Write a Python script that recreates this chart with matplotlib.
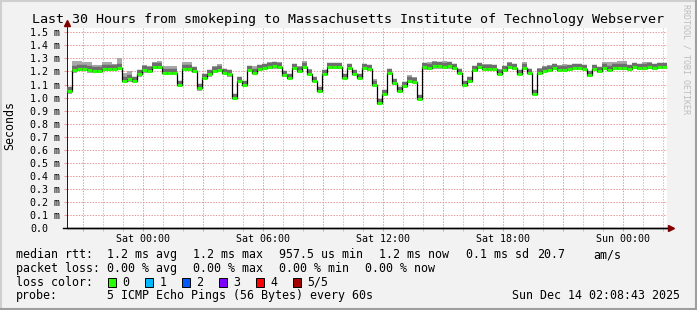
import numpy as np
import matplotlib
matplotlib.use("Agg")
import matplotlib.pyplot as plt
from matplotlib.patches import Rectangle
from matplotlib.lines import Line2D
import matplotlib.transforms as mtransforms

W, H = 697, 310
MONO = "DejaVu Sans Mono"

# time axis: hours relative to Sat 00:00, one value per 15 min step
start_hour = -3.8
step_hours = 0.25

median_ms = [
    1.05, 1.21, 1.22, 1.22, 1.21, 1.20, 1.20, 1.22, 1.22, 1.22,
    1.23, 1.13, 1.14, 1.13, 1.18, 1.21, 1.20, 1.235, 1.235, 1.19,
    1.19, 1.19, 1.10, 1.22, 1.22, 1.20, 1.07, 1.15, 1.18, 1.20,
    1.21, 1.19, 1.18, 1.00, 1.13, 1.10, 1.21, 1.19, 1.22, 1.23,
    1.235, 1.24, 1.235, 1.17, 1.15, 1.23, 1.20, 1.235, 1.18, 1.13,
    1.05, 1.18, 1.235, 1.235, 1.235, 1.15, 1.23, 1.18, 1.15, 1.23,
    1.22, 1.10, 0.96, 1.03, 1.19, 1.11, 1.05, 1.09, 1.13, 1.12,
    0.99, 1.235, 1.23, 1.24, 1.24, 1.235, 1.24, 1.23, 1.19, 1.10,
    1.13, 1.21, 1.235, 1.22, 1.22, 1.22, 1.18, 1.21, 1.235, 1.23,
    1.18, 1.23, 1.19, 1.03, 1.19, 1.20, 1.21, 1.23, 1.21, 1.21,
    1.22, 1.23, 1.23, 1.22, 1.17, 1.22, 1.20, 1.23, 1.21, 1.23,
    1.23, 1.23, 1.22, 1.235, 1.23, 1.23, 1.235, 1.23, 1.235, 1.235,
]
smoke_hi_ms = [
    1.08, 1.28, 1.28, 1.27, 1.27, 1.25, 1.25, 1.27, 1.27, 1.26,
    1.30, 1.19, 1.20, 1.16, 1.20, 1.25, 1.24, 1.27, 1.28, 1.24,
    1.24, 1.24, 1.12, 1.27, 1.27, 1.23, 1.09, 1.17, 1.21, 1.24,
    1.26, 1.22, 1.20, 1.01, 1.15, 1.12, 1.24, 1.24, 1.25, 1.26,
    1.27, 1.27, 1.27, 1.20, 1.18, 1.25, 1.24, 1.28, 1.22, 1.15,
    1.07, 1.20, 1.26, 1.26, 1.26, 1.17, 1.26, 1.21, 1.18, 1.25,
    1.25, 1.14, 0.98, 1.06, 1.22, 1.14, 1.07, 1.12, 1.17, 1.16,
    1.01, 1.26, 1.27, 1.28, 1.27, 1.28, 1.27, 1.26, 1.21, 1.12,
    1.15, 1.24, 1.26, 1.26, 1.26, 1.25, 1.22, 1.24, 1.27, 1.26,
    1.20, 1.27, 1.21, 1.06, 1.23, 1.24, 1.25, 1.25, 1.25, 1.26,
    1.25, 1.26, 1.26, 1.25, 1.19, 1.24, 1.22, 1.27, 1.27, 1.27,
    1.28, 1.28, 1.25, 1.26, 1.26, 1.27, 1.27, 1.26, 1.26, 1.26,
]
smoke_lo_ms = [
    1.03, 1.19, 1.20, 1.20, 1.19, 1.19, 1.19, 1.21, 1.21, 1.21,
    1.22, 1.12, 1.12, 1.12, 1.16, 1.19, 1.19, 1.22, 1.22, 1.18,
    1.17, 1.18, 1.09, 1.21, 1.21, 1.19, 1.05, 1.14, 1.16, 1.19,
    1.20, 1.18, 1.16, 0.99, 1.12, 1.09, 1.20, 1.18, 1.21, 1.21,
    1.22, 1.22, 1.22, 1.16, 1.14, 1.21, 1.19, 1.22, 1.17, 1.12,
    1.04, 1.17, 1.22, 1.22, 1.22, 1.14, 1.22, 1.17, 1.14, 1.22,
    1.20, 1.09, 0.94, 1.02, 1.18, 1.10, 1.04, 1.08, 1.12, 1.11,
    0.98, 1.21, 1.21, 1.22, 1.22, 1.22, 1.22, 1.21, 1.18, 1.09,
    1.12, 1.20, 1.22, 1.21, 1.21, 1.21, 1.17, 1.20, 1.22, 1.21,
    1.17, 1.22, 1.18, 1.02, 1.18, 1.19, 1.20, 1.21, 1.20, 1.20,
    1.21, 1.21, 1.21, 1.21, 1.16, 1.21, 1.19, 1.21, 1.20, 1.21,
    1.21, 1.21, 1.21, 1.22, 1.21, 1.21, 1.22, 1.21, 1.22, 1.22,
]
loss_pings = [0] * len(median_ms)

loss_labels = ["0", "1", "2", "3", "4", "5/5"]
loss_colors = ["#26ff00", "#00b8ff", "#0059ff", "#7e00ff", "#ff0000", "#a10000"]

x_tick_hours = [0, 6, 12, 18, 24]
x_tick_labels = ["Sat 00:00", "Sat 06:00", "Sat 12:00", "Sat 18:00", "Sun 00:00"]
y_ticks = [round(0.1 * k, 1) for k in range(16)]

title = "Last 30 Hours from smokeping to Massachusetts Institute of Technology Webserver"
rtt_stats = ["1.2 ms avg", "1.2 ms max", "957.5 us min", "1.2 ms now", "0.1 ms sd", "20.7", "am/s"]
rtt_x = [107, 193, 279, 379, 466, 537, 593]
loss_stats = ["0.00 % avg", "0.00 % max", "0.00 % min", "0.00 % now"]
loss_x = [107, 193, 279, 365]

n = len(median_ms)
t = start_hour + step_hours * np.arange(n + 1)
med = np.array(median_ms)
hi = np.array(smoke_hi_ms)
lo = np.array(smoke_lo_ms)

def fx(x):
    return x / W

def fy(y):
    return 1 - y / H

fig = plt.figure(figsize=(W / 100, H / 100), dpi=100)
fig.patch.set_facecolor("#f2f2f2")

ax = fig.add_axes([fx(67), fy(228.3), 600 / W, 200 / H])
ax.set_facecolor("white")
ax.set_xlim(start_hour, start_hour + 30)
ax.set_ylim(0, 200 / 130.67)

# smoke
ax.fill_between(t, np.append(lo, lo[-1]), np.append(hi, hi[-1]), step="post",
                color="#a8a8a8", lw=0, zorder=2)
up = mtransforms.offset_copy(ax.transData, fig=fig, x=0, y=2, units="dots")
ax.hlines(med, t[:-1], t[1:], colors="#6e6e6e", lw=3.2, transform=up, zorder=3)
ax.step(t, np.append(med, med[-1]), where="post", color="black", lw=0.9, zorder=4)
ax.hlines(med, t[:-1], t[1:], colors=[loss_colors[k] for k in loss_pings],
          lw=2.2, zorder=5)

# grid
ax.set_xticks(list(range(-3, 27, 3)))
ax.set_xticks(list(range(-3, 27)), minor=True)
ax.set_xticklabels([x_tick_labels[x_tick_hours.index(h)] if h in x_tick_hours else ""
                    for h in range(-3, 27, 3)])
ax.set_yticks(y_ticks)
ax.set_yticklabels(["0.0" if v == 0 else "%.1f m" % v for v in y_ticks])
mg = "#e79a9a"
gg = "#c4c4c4"
dots = (0, (1.4, 1.4))
ax.grid(which="major", axis="both", color=mg, ls=dots, lw=0.72, zorder=1)
ax.grid(which="minor", axis="x", color=gg, ls=dots, lw=0.72, zorder=0.9)
ax.set_axisbelow(True)
ax.tick_params(which="major", axis="x", length=2.2, width=0.72, color=mg, pad=2,
               labelsize=7.2)
ax.tick_params(which="minor", axis="x", length=2.2, width=0.72, color=gg)
ax.tick_params(axis="y", length=2.2, width=0.72, color=mg, pad=24.5, labelsize=7.2)
for lab in ax.get_yticklabels():
    lab.set_horizontalalignment("left")
for lab in ax.get_xticklabels() + ax.get_yticklabels():
    lab.set_family(MONO)

for s in ("top", "right"):
    ax.spines[s].set_visible(False)
ax.spines["left"].set_color("#1f1f1f")
ax.spines["left"].set_linewidth(0.72)
ax.spines["bottom"].set_color("black")
ax.spines["bottom"].set_linewidth(1.0)
ax.spines["left"].set_bounds(0, 200 / 130.67)

# axis extensions + arrows
ax.plot([-0.006, 1.003], [0, 0], transform=ax.transAxes, color="black", lw=1.0,
        clip_on=False, zorder=6)
ax.plot([0, 0], [1.0, 1.02], transform=ax.transAxes, color="#1f1f1f", lw=0.72,
        clip_on=False, zorder=6)
ax.plot([1.006], [0], transform=ax.transAxes, marker=">", ms=5, color="#800000",
        mec="#800000", clip_on=False, zorder=7)
ax.plot([0], [1.026], transform=ax.transAxes, marker="^", ms=5, color="#800000",
        mec="#800000", clip_on=False, zorder=7)

# texts
fig.text(fx(347.5), fy(23.5), title, ha="center", va="baseline", fontsize=9.6,
         family=MONO)
fig.text(fx(10), fy(126), "Seconds", rotation=90, ha="center", va="center",
         fontsize=8.4, family=MONO)
fig.text(fx(686), fy(4), "RRDTOOL / TOBI OETIKER", rotation=270, ha="center", va="top",
         fontsize=6, family=MONO, color="#bdbdbd")

fs = 8.4
fig.text(fx(16), fy(258), "median rtt:", fontsize=fs, family=MONO, va="baseline")
for s, x in zip(rtt_stats, rtt_x):
    fig.text(fx(x), fy(258), s, fontsize=fs, family=MONO, va="baseline")
fig.text(fx(16), fy(271.7), "packet loss:", fontsize=fs, family=MONO, va="baseline")
for s, x in zip(loss_stats, loss_x):
    fig.text(fx(x), fy(271.7), s, fontsize=fs, family=MONO, va="baseline")
fig.text(fx(16), fy(285.5), "loss color:", fontsize=fs, family=MONO, va="baseline")
box_x = [108, 145, 182, 219, 256, 293]
for lab, col, x in zip(loss_labels, loss_colors, box_x):
    fig.add_artist(Rectangle((fx(x), fy(286.5)), 8 / W, 9 / H, transform=fig.transFigure,
                             facecolor=col, edgecolor="black", lw=0.7))
    fig.text(fx(x + 14.5), fy(285.5), lab, fontsize=fs, family=MONO, va="baseline")
fig.text(fx(16), fy(299.2), "probe:", fontsize=fs, family=MONO, va="baseline")
fig.text(fx(107), fy(299.2), "5 ICMP Echo Pings (56 Bytes) every 60s", fontsize=fs,
         family=MONO, va="baseline")
fig.text(fx(680), fy(299.2), "Sun Dec 14 02:08:43 2025", fontsize=fs, family=MONO,
         va="baseline", ha="right")

# 3d frame
for (x0, y0, x1, y1, c) in [(0, 1, W, 1, "#cfcfcf"), (1, 0, 1, H, "#cfcfcf"),
                            (0, H - 1, W, H - 1, "#9e9e9e"), (W - 1, 0, W - 1, H, "#9e9e9e")]:
    fig.add_artist(Line2D([fx(x0), fx(x1)], [fy(y0), fy(y1)], transform=fig.transFigure,
                          color=c, lw=1.5))

fig.savefig("out.png", dpi=100, facecolor=fig.get_facecolor())
